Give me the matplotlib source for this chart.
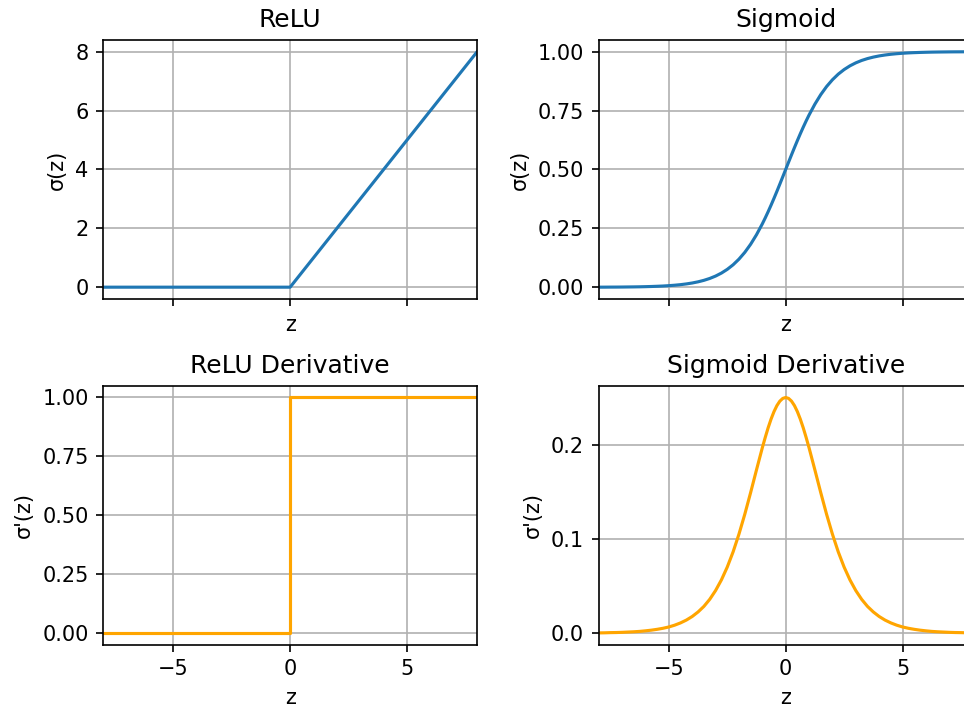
import numpy as np
import matplotlib
matplotlib.use("Agg")
import matplotlib.pyplot as plt

# sample points for the smooth curves: step 0.25, finer (0.125) round the middle
z = np.array([
    -8.0, -7.75, -7.5, -7.25, -7.0, -6.75, -6.5, -6.25,
    -6.0, -5.75, -5.5, -5.25, -5.0, -4.75, -4.5, -4.25,
    -4.0, -3.75, -3.5, -3.25, -3.0, -2.75, -2.5, -2.25,
    -2.0, -1.75, -1.5, -1.25,
    -1.0, -0.875, -0.75, -0.625, -0.5, -0.375, -0.25, -0.125,
    0.0,
    0.125, 0.25, 0.375, 0.5, 0.625, 0.75, 0.875, 1.0,
    1.25, 1.5, 1.75, 2.0,
    2.25, 2.5, 2.75, 3.0, 3.25, 3.5, 3.75, 4.0,
    4.25, 4.5, 4.75, 5.0, 5.25, 5.5, 5.75, 6.0,
    6.25, 6.5, 6.75, 7.0, 7.25, 7.5, 7.75, 8.0,
])

sigmoid_vals = [
    0.0003, 0.0004, 0.0006, 0.0007, 0.0009, 0.0012, 0.0015, 0.0019,
    0.0025, 0.0032, 0.0041, 0.0052, 0.0067, 0.0086, 0.0110, 0.0141,
    0.0180, 0.0230, 0.0293, 0.0373, 0.0474, 0.0601, 0.0759, 0.0953,
    0.1192, 0.1480, 0.1824, 0.2227,
    0.2689, 0.2942, 0.3208, 0.3486, 0.3775, 0.4073, 0.4378, 0.4688,
    0.5000,
    0.5312, 0.5622, 0.5927, 0.6225, 0.6514, 0.6792, 0.7058, 0.7311,
    0.7773, 0.8176, 0.8520, 0.8808,
    0.9047, 0.9241, 0.9399, 0.9526, 0.9627, 0.9707, 0.9770, 0.9820,
    0.9859, 0.9890, 0.9914, 0.9933, 0.9948, 0.9959, 0.9968, 0.9975,
    0.9981, 0.9985, 0.9988, 0.9991, 0.9993, 0.9994, 0.9996, 0.9997,
]

sigmoid_deriv = [
    0.0003, 0.0004, 0.0006, 0.0007, 0.0009, 0.0012, 0.0015, 0.0019,
    0.0025, 0.0032, 0.0041, 0.0052, 0.0066, 0.0085, 0.0109, 0.0139,
    0.0177, 0.0225, 0.0284, 0.0359, 0.0452, 0.0565, 0.0701, 0.0862,
    0.1050, 0.1261, 0.1491, 0.1731,
    0.1966, 0.2076, 0.2179, 0.2271, 0.2350, 0.2414, 0.2461, 0.2490,
    0.2500,
    0.2490, 0.2461, 0.2414, 0.2350, 0.2271, 0.2179, 0.2076, 0.1966,
    0.1731, 0.1491, 0.1261, 0.1050,
    0.0862, 0.0701, 0.0565, 0.0452, 0.0359, 0.0284, 0.0225, 0.0177,
    0.0139, 0.0109, 0.0085, 0.0066, 0.0052, 0.0041, 0.0032, 0.0025,
    0.0019, 0.0015, 0.0012, 0.0009, 0.0007, 0.0006, 0.0004, 0.0003,
]

# piecewise linear ones only need their corner points
relu_z = [-8, 0, 8]
relu_vals = [0, 0, 8]
relu_deriv_z = [-8, 0, 0, 8]
relu_deriv_vals = [0, 0, 1, 1]

# the reference looks like default styling rendered at 150 dpi
fig, axes = plt.subplots(2, 2, figsize=(964 / 150, 710 / 150), dpi=150, sharex=True)
fig.subplots_adjust(left=0.107, right=1.009, top=0.9437, bottom=0.0920,
                    wspace=0.325, hspace=0.335)

ax = axes[0, 0]
ax.plot(relu_z, relu_vals, color="C0")
ax.set_title("ReLU")
ax.set_ylabel("σ(z)")
ax.set_yticks([0, 2, 4, 6, 8])

ax = axes[0, 1]
ax.plot(z, sigmoid_vals, color="C0")
ax.set_title("Sigmoid")
ax.set_ylabel("σ(z)")
ax.set_yticks([0, 0.25, 0.5, 0.75, 1.0])

ax = axes[1, 0]
ax.plot(relu_deriv_z, relu_deriv_vals, color="orange")
ax.set_title("ReLU Derivative")
ax.set_ylabel("σ'(z)")
ax.set_yticks([0, 0.25, 0.5, 0.75, 1.0])

ax = axes[1, 1]
ax.plot(z, sigmoid_deriv, color="orange")
ax.set_title("Sigmoid Derivative")
ax.set_ylabel("σ'(z)")
ax.set_yticks([0, 0.1, 0.2])

for ax in axes.flat:
    ax.set_xlim(-8, 8)
    ax.set_xticks([-5, 0, 5])
    ax.set_xlabel("z")
    ax.grid(True)

fig.savefig("out.png", dpi=150)
